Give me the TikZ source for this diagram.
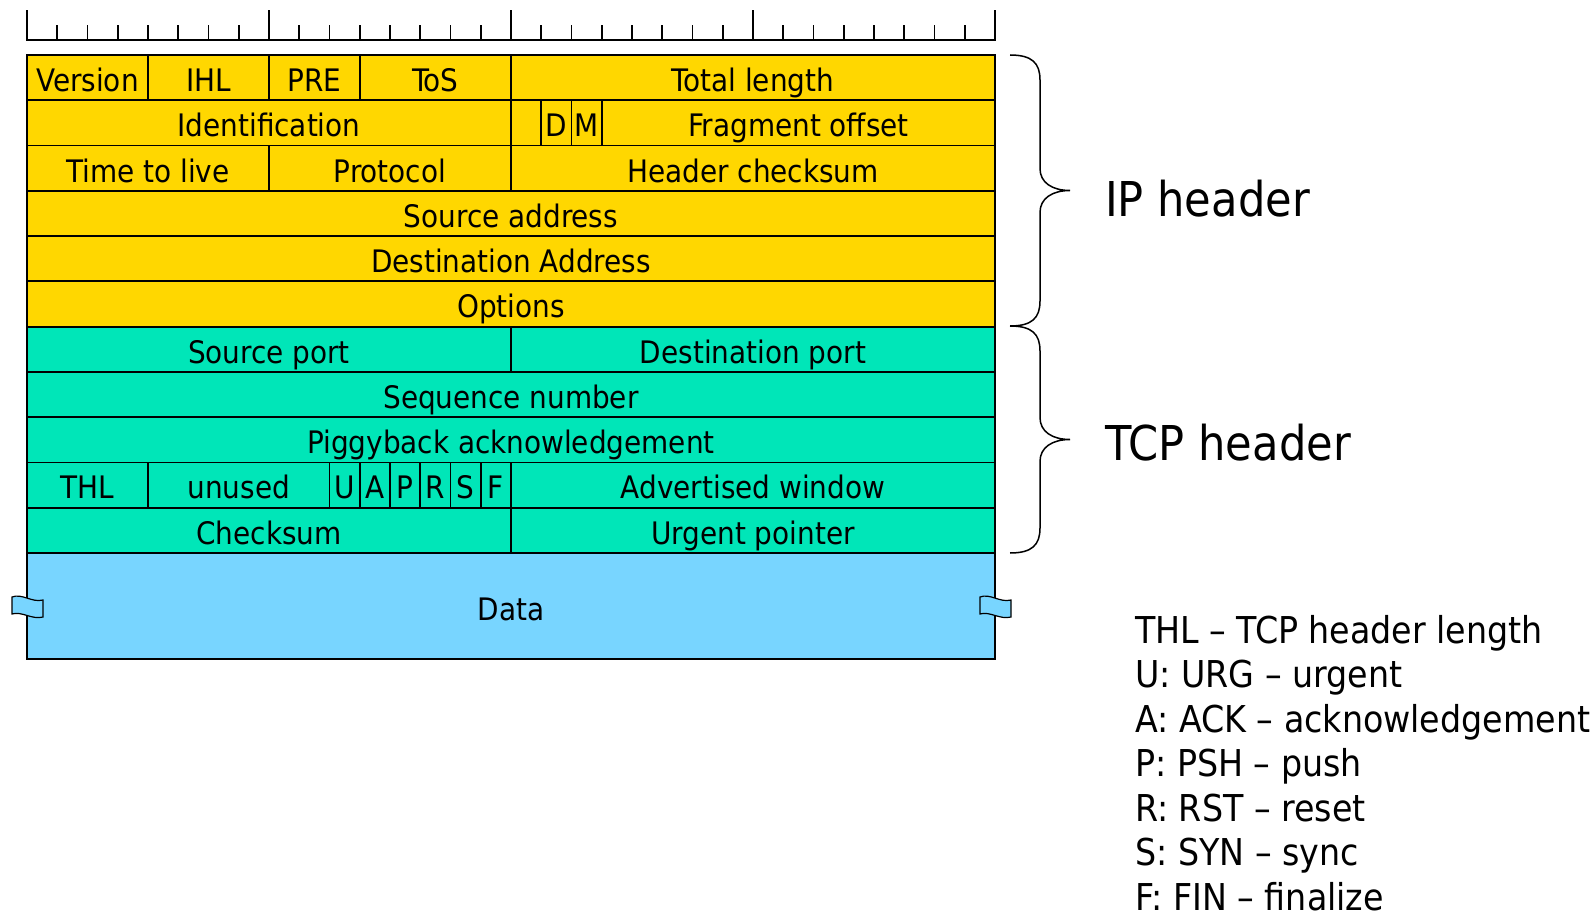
\documentclass[tikz,border=0pt]{standalone}
\usepackage{fontspec}
\setmainfont{DejaVu Sans Condensed}
\definecolor{ipy}{RGB}{255,215,0}
\definecolor{tcpg}{RGB}{0,230,184}
\definecolor{datab}{RGB}{120,213,255}
\tikzset{
  cell/.style={draw=black,line width=1.8pt},
  lbl/.style={anchor=base,inner sep=0pt,font=\fontsize{31}{31}\selectfont},
  big/.style={anchor=base west,inner sep=0pt,font=\fontsize{48}{48}\selectfont},
  leg/.style={anchor=base west,inner sep=0pt,font=\fontsize{37}{37}\selectfont},
  brc/.style={draw=black,line width=1.5pt},
  flagst/.style={draw=black,line width=1.2pt,fill=datab}
}
\newcommand\fld[6]{%
  \pgfmathsetmacro\fxa{27+#2*30.25}%
  \pgfmathsetmacro\fxb{27+#3*30.25}%
  \pgfmathsetmacro\fya{55+#4*45.27}%
  \pgfmathsetmacro\fyb{\fya+45.27}%
  \pgfmathsetmacro\fxc{(\fxa+\fxb)/2}%
  \pgfmathsetmacro\fyt{\fya+36.5}%
  \draw[cell,fill=#5] (\fxa,\fya) rectangle (\fxb,\fyb);
  \node[lbl] (#1) at (\fxc,\fyt) {#6};%
}
\newcommand\hdrbrace[3]{%
  \draw[brc] (1010,#1) .. controls (1032,#1) and (1040,#1+8) .. (1040,#1+25)
    -- (1040,#3-22) .. controls (1040,#3-8) and (1052,#3) .. (1070,#3)
    .. controls (1052,#3) and (1040,#3+8) .. (1040,#3+22)
    -- (1040,#2-25) .. controls (1040,#2-8) and (1032,#2) .. (1010,#2);%
}
\begin{document}
\begin{tikzpicture}[x=1pt,y=-1pt]
\useasboundingbox (0,0) rectangle (1595,917);
% ruler
\draw[line width=2pt] (27,40) -- (995,40);
\foreach \i in {0,...,32}{
  \pgfmathsetmacro\tkx{27+\i*30.25}
  \pgfmathsetmacro\tktop{mod(\i,8)==0 ? 10 : 25}
  \draw[line width=1.6pt] (\tkx,41) -- (\tkx,\tktop);
}
% IP header rows
\fld{ver}{0}{4}{0}{ipy}{Version}
\fld{ihl}{4}{8}{0}{ipy}{IHL}
\fld{pre}{8}{11}{0}{ipy}{PRE}
\fld{tos}{11}{16}{0}{ipy}{ToS}
\fld{tlen}{16}{32}{0}{ipy}{Total length}
\fld{ident}{0}{16}{1}{ipy}{Identification}
\fld{blank}{16}{17}{1}{ipy}{}
\fld{dflag}{17}{18}{1}{ipy}{D}
\fld{mflag}{18}{19}{1}{ipy}{M}
\fld{frag}{19}{32}{1}{ipy}{Fragment offset}
\fld{ttl}{0}{8}{2}{ipy}{Time to live}
\fld{proto}{8}{16}{2}{ipy}{Protocol}
\fld{hcs}{16}{32}{2}{ipy}{Header checksum}
\fld{srcaddr}{0}{32}{3}{ipy}{Source address}
\fld{dstaddr}{0}{32}{4}{ipy}{Destination Address}
\fld{opts}{0}{32}{5}{ipy}{Options}
% TCP header rows
\fld{sport}{0}{16}{6}{tcpg}{Source port}
\fld{dport}{16}{32}{6}{tcpg}{Destination port}
\fld{seq}{0}{32}{7}{tcpg}{Sequence number}
\fld{ack}{0}{32}{8}{tcpg}{Piggyback acknowledgement}
\fld{thl}{0}{4}{9}{tcpg}{THL}
\fld{unused}{4}{10}{9}{tcpg}{unused}
\fld{uf}{10}{11}{9}{tcpg}{U}
\fld{af}{11}{12}{9}{tcpg}{A}
\fld{pf}{12}{13}{9}{tcpg}{P}
\fld{rf}{13}{14}{9}{tcpg}{R}
\fld{sf}{14}{15}{9}{tcpg}{S}
\fld{ff}{15}{16}{9}{tcpg}{F}
\fld{win}{16}{32}{9}{tcpg}{Advertised window}
\fld{cks}{0}{16}{10}{tcpg}{Checksum}
\fld{urg}{16}{32}{10}{tcpg}{Urgent pointer}
% data
\draw[cell,fill=datab] (27,553) rectangle (995,659);
\node[lbl] (data) at (511,620) {Data};
% break flags
\draw[flagst] (12,597) .. controls (22,593) and (32,603) .. (43,600) -- (43,617)
   .. controls (32,620) and (22,611) .. (12,614) -- cycle;
\draw[flagst] (980,597) .. controls (990,593) and (1000,603) .. (1011,600) -- (1011,617)
   .. controls (1000,620) and (990,611) .. (980,614) -- cycle;
% braces
\hdrbrace{55}{326}{190.5}
\hdrbrace{326}{553}{439.5}
\node[big] (iplbl) at (1105,217) {IP header};
\node[big] (tcplbl) at (1105,460) {TCP header};
% legend
\node[leg] (l1) at (1135,643) {THL – TCP header length};
\node[leg] (l2) at (1135,687.5) {U: URG – urgent};
\node[leg] (l3) at (1135,732) {A: ACK – acknowledgement};
\node[leg] (l4) at (1135,776.5) {P: PSH – push};
\node[leg] (l5) at (1135,821) {R: RST – reset};
\node[leg] (l6) at (1135,865.5) {S: SYN – sync};
\node[leg] (l7) at (1135,910) {F: FIN – finalize};
\end{tikzpicture}
\end{document}
